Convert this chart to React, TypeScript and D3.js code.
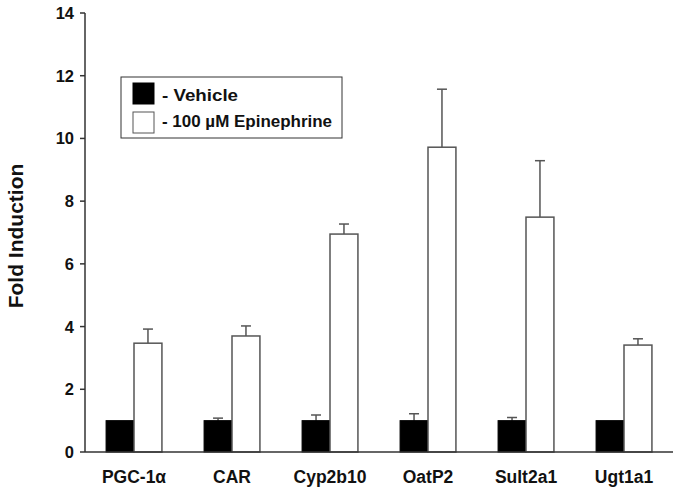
import React from "react";
import * as d3 from "d3";

const categories = ["PGC-1α", "CAR", "Cyp2b10", "OatP2", "Sult2a1", "Ugt1a1"];
const vehicle = [1.0, 1.0, 1.0, 1.0, 1.0, 1.0];
const vehicleErr = [0, 0.08, 0.18, 0.22, 0.1, 0];
const epinephrine = [3.47, 3.7, 6.95, 9.72, 7.49, 3.41];
const epinephrineErr = [0.45, 0.32, 0.32, 1.85, 1.8, 0.2];
const yTicks = [0, 2, 4, 6, 8, 10, 12, 14];
const seriesNames = ["- Vehicle", "- 100 µM Epinephrine"];

const W = 679;
const H = 495;
const left = 85;
const right = 673;
const top = 13;
const bottom = 452;
const font = "Liberation Sans, Arial, sans-serif";
const axisColor = "#333";
const barStroke = "#555";

export default function App() {
  const y = d3.scaleLinear().domain([0, 14]).range([bottom, top]);
  const x = d3
    .scaleBand<string>()
    .domain(categories)
    .range([left, right])
    .paddingInner(0.43)
    .paddingOuter(0.215);
  const sub = d3
    .scaleBand<string>()
    .domain(["v", "e"])
    .range([0, x.bandwidth()])
    .padding(0);
  const capW = 5;

  return (
    <div style={{ position: "absolute", left: 0, top: 0 }}>
      <svg width={W} height={H} style={{ display: "block", background: "#fff" }}>
        {categories.map((c, i) => {
          const x0 = x(c)!;
          const xv = x0 + sub("v")!;
          const xe = x0 + sub("e")!;
          const bw = sub.bandwidth();
          const ve = vehicleErr[i];
          const ee = epinephrineErr[i];
          return (
            <g key={c}>
              {ve > 0 && (
                <g stroke={barStroke} strokeWidth={1.5}>
                  <line x1={xv + bw / 2} x2={xv + bw / 2} y1={y(vehicle[i])} y2={y(vehicle[i] + ve)} />
                  <line x1={xv + bw / 2 - capW} x2={xv + bw / 2 + capW} y1={y(vehicle[i] + ve)} y2={y(vehicle[i] + ve)} />
                </g>
              )}
              {ee > 0 && (
                <g stroke={barStroke} strokeWidth={1.5}>
                  <line x1={xe + bw / 2} x2={xe + bw / 2} y1={y(epinephrine[i])} y2={y(epinephrine[i] + ee)} />
                  <line x1={xe + bw / 2 - capW} x2={xe + bw / 2 + capW} y1={y(epinephrine[i] + ee)} y2={y(epinephrine[i] + ee)} />
                </g>
              )}
              <rect x={xv} y={y(vehicle[i])} width={bw} height={bottom - y(vehicle[i])} fill="#000" stroke="#000" strokeWidth={1} />
              <rect x={xe} y={y(epinephrine[i])} width={bw} height={bottom - y(epinephrine[i])} fill="#fff" stroke={barStroke} strokeWidth={1.5} />
            </g>
          );
        })}

        <line x1={left} x2={left} y1={top} y2={bottom} stroke={axisColor} strokeWidth={1.5} />
        <line x1={left} x2={right} y1={bottom} y2={bottom} stroke={axisColor} strokeWidth={1.5} />
        {yTicks.map((t) => (
          <g key={t}>
            <line x1={left - 5} x2={left} y1={y(t)} y2={y(t)} stroke={axisColor} strokeWidth={1.5} />
            <text
              x={74}
              y={y(t)}
              dy="0.36em"
              textAnchor="end"
              fontFamily={font}
              fontWeight="bold"
              fontSize={16.5}
              fill="#111"
            >
              {t}
            </text>
          </g>
        ))}
        {categories.map((c) => (
          <text
            key={c}
            x={x(c)! + x.bandwidth() / 2}
            y={483}
            textAnchor="middle"
            fontFamily={font}
            fontWeight="bold"
            fontSize={17.5}
            fill="#111"
          >
            {c}
          </text>
        ))}
        <text
          transform={`translate(23,${236}) rotate(-90)`}
          textAnchor="middle"
          fontFamily={font}
          fontWeight="bold"
          fontSize={21}
          fill="#111"
        >
          Fold Induction
        </text>

        <rect x={121} y={77} width={221} height={61} fill="#fff" stroke={axisColor} strokeWidth={1} />
        <rect x={133} y={83} width={21} height={21} fill="#000" stroke="#000" />
        <rect x={133} y={112} width={21} height={21} fill="#fff" stroke={barStroke} strokeWidth={1} />
        <text x={162} y={101} fontFamily={font} fontWeight="bold" fontSize={16} fill="#111" textLength={76} lengthAdjust="spacingAndGlyphs">
          {seriesNames[0]}
        </text>
        <text x={162} y={127} fontFamily={font} fontWeight="bold" fontSize={16} fill="#111" textLength={170} lengthAdjust="spacingAndGlyphs">
          {seriesNames[1]}
        </text>
      </svg>
    </div>
  );
}
